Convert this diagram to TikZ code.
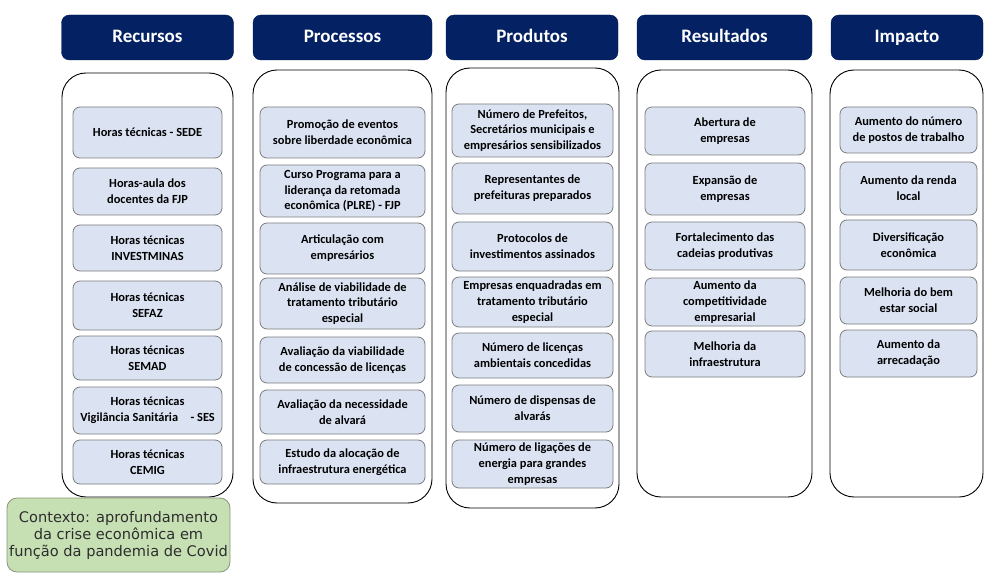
\documentclass[tikz,border=0pt]{standalone}
\usepackage{fontspec}
\setmainfont{Carlito}
\newfontfamily\contextfont{DejaVu Sans}
\usepackage{tikz}
\definecolor{HeadBlue}{RGB}{3,33,99}
\definecolor{ItemFill}{RGB}{219,227,243}
\definecolor{ItemDraw}{RGB}{125,125,125}
\definecolor{ContextFill}{RGB}{198,224,180}
\definecolor{ContextDraw}{RGB}{135,150,125}
\definecolor{ContextText}{RGB}{45,45,45}

\begin{document}
\begin{tikzpicture}[x=1pt, y=-1pt,
	HeadNode/.style={rectangle, rounded corners=8pt, fill=HeadBlue, draw=HeadBlue!80!black, text=white, font=\fontsize{19}{22}\selectfont\bfseries, minimum height=45pt, text height=14pt, text depth=3pt, inner sep=0pt},
	FrameNode/.style={rectangle, rounded corners=24pt, draw=black, line width=0.9pt, fill=white, inner sep=0pt},
	ItemNode/.style={rectangle, rounded corners=7pt, fill=ItemFill, draw=ItemDraw, line width=0.8pt, align=center, font=\fontsize{12.4}{15.8}\selectfont\bfseries, inner sep=0pt},
	RecItem/.style={ItemNode, minimum width=149pt},
	ProcItem/.style={ItemNode, minimum width=165pt},
	ProdItem/.style={ItemNode, minimum width=161pt},
	ResItem/.style={ItemNode, minimum width=160pt},
	ImpItem/.style={ItemNode, minimum width=137pt},
	ContextNode/.style={rectangle, rounded corners=10pt, fill=ContextFill, draw=ContextDraw, line width=0.8pt, align=center, text=ContextText, font=\contextfont\fontsize{14.6}{17}\selectfont, inner sep=0pt}]

	\useasboundingbox (0,0) rectangle (989,575);

	% Headers
	\node[HeadNode, minimum width=172pt] (RecHead) at (147.5,37.5) {Recursos};
	\node[HeadNode, minimum width=179pt] (ProcHead) at (342.5,37.5) {Processos};
	\node[HeadNode, minimum width=172pt] (ProdHead) at (532,37.5) {Produtos};
	\node[HeadNode, minimum width=175pt] (ResHead) at (724.5,37.5) {Resultados};
	\node[HeadNode, minimum width=152pt] (ImpHead) at (907,37.5) {Impacto};

	% Frames
	\node[FrameNode, minimum width=171pt, minimum height=424pt] (RecFrame) at (147.5,285) {};
	\node[FrameNode, minimum width=179pt, minimum height=433pt] (ProcFrame) at (342.5,286.5) {};
	\node[FrameNode, minimum width=173pt, minimum height=440pt] (ProdFrame) at (532.5,288) {};
	\node[FrameNode, minimum width=175pt, minimum height=427pt] (ResFrame) at (724.5,283.5) {};
	\node[FrameNode, minimum width=153pt, minimum height=427pt] (ImpFrame) at (906.5,283.5) {};

	% Recursos
	\node[RecItem, minimum height=51pt] (Rec1) at (147.5,132.5) {Horas técnicas - SEDE};
	\node[RecItem, minimum height=47pt] (Rec2) at (147.5,191.5) {Horas-aula dos\\docentes da FJP};
	\node[RecItem, minimum height=46pt] (Rec3) at (147.5,248) {Horas técnicas\\INVESTMINAS};
	\node[RecItem, minimum height=49pt] (Rec4) at (147.5,305.5) {Horas técnicas\\SEFAZ};
	\node[RecItem, minimum height=44pt] (Rec5) at (147.5,358) {Horas técnicas\\SEMAD};
	\node[RecItem, minimum height=47pt] (Rec6) at (147.5,410.5) {Horas técnicas\\Vigilância Sanitária\quad - SES};
	\node[RecItem, minimum height=44pt] (Rec7) at (147.5,462) {Horas técnicas\\CEMIG};

	% Processos
	\node[ProcItem, minimum height=51pt] (Proc1) at (342.5,132.5) {Promoção de eventos\\sobre liberdade econômica};
	\node[ProcItem, minimum height=52pt] (Proc2) at (342.5,191) {Curso Programa para a\\liderança da retomada\\econômica (PLRE) - FJP};
	\node[ProcItem, minimum height=51pt] (Proc3) at (342.5,248.5) {Articulação com\\empresários};
	\node[ProcItem, minimum height=51pt] (Proc4) at (342.5,303.5) {Análise de viabilidade de\\tratamento tributário\\especial};
	\node[ProcItem, minimum height=46pt] (Proc5) at (342.5,360) {Avaliação da viabilidade\\de concessão de licenças};
	\node[ProcItem, minimum height=44pt] (Proc6) at (342.5,412) {Avaliação da necessidade\\de alvará};
	\node[ProcItem, minimum height=44pt] (Proc7) at (342.5,462) {Estudo da alocação de\\infraestrutura energética};

	% Produtos
	\node[ProdItem, minimum height=53pt] (Prod1) at (532.5,130.5) {Número de Prefeitos,\\Secretários municipais e\\empresários sensibilizados};
	\node[ProdItem, minimum height=51pt] (Prod2) at (532.5,188.5) {Representantes de\\prefeituras preparados};
	\node[ProdItem, minimum height=49pt] (Prod3) at (532.5,246.5) {Protocolos de\\investimentos assinados};
	\node[ProdItem, minimum height=50pt] (Prod4) at (532.5,302) {Empresas enquadradas em\\tratamento tributário\\especial};
	\node[ProdItem, minimum height=45pt] (Prod5) at (532.5,355.5) {Número de licenças\\ambientais concedidas};
	\node[ProdItem, minimum height=47pt] (Prod6) at (532.5,408.5) {Número de dispensas de\\alvarás};
	\node[ProdItem, minimum height=48pt] (Prod7) at (532.5,464) {Número de ligações de\\energia para grandes\\empresas};

	% Resultados
	\node[ResItem, minimum height=48pt] (Res1) at (725,131) {Abertura de\\empresas};
	\node[ResItem, minimum height=52pt] (Res2) at (725,189) {Expansão de\\empresas};
	\node[ResItem, minimum height=48pt] (Res3) at (725,246) {Fortalecimento das\\cadeias produtivas};
	\node[ResItem, minimum height=48pt] (Res4) at (725,302) {Aumento da\\competitividade\\empresarial};
	\node[ResItem, minimum height=46pt] (Res5) at (725,354) {Melhoria da\\infraestrutura};

	% Impacto
	\node[ImpItem, minimum height=46pt] (Imp1) at (908.5,130) {Aumento do número\\de postos de trabalho};
	\node[ImpItem, minimum height=53pt] (Imp2) at (908.5,188.5) {Aumento da renda\\local};
	\node[ImpItem, minimum height=50pt] (Imp3) at (908.5,245) {Diversificação\\econômica};
	\node[ImpItem, minimum height=47pt] (Imp4) at (908.5,300.5) {Melhoria do bem\\estar social};
	\node[ImpItem, minimum height=47pt] (Imp5) at (908.5,353.5) {Aumento da\\arrecadação};

	% Context
	\node[ContextNode, minimum width=223pt, minimum height=74pt] (Context) at (118.5,535) {Contexto: aprofundamento\\da crise econômica em\\função da pandemia de Covid};
\end{tikzpicture}
\end{document}
